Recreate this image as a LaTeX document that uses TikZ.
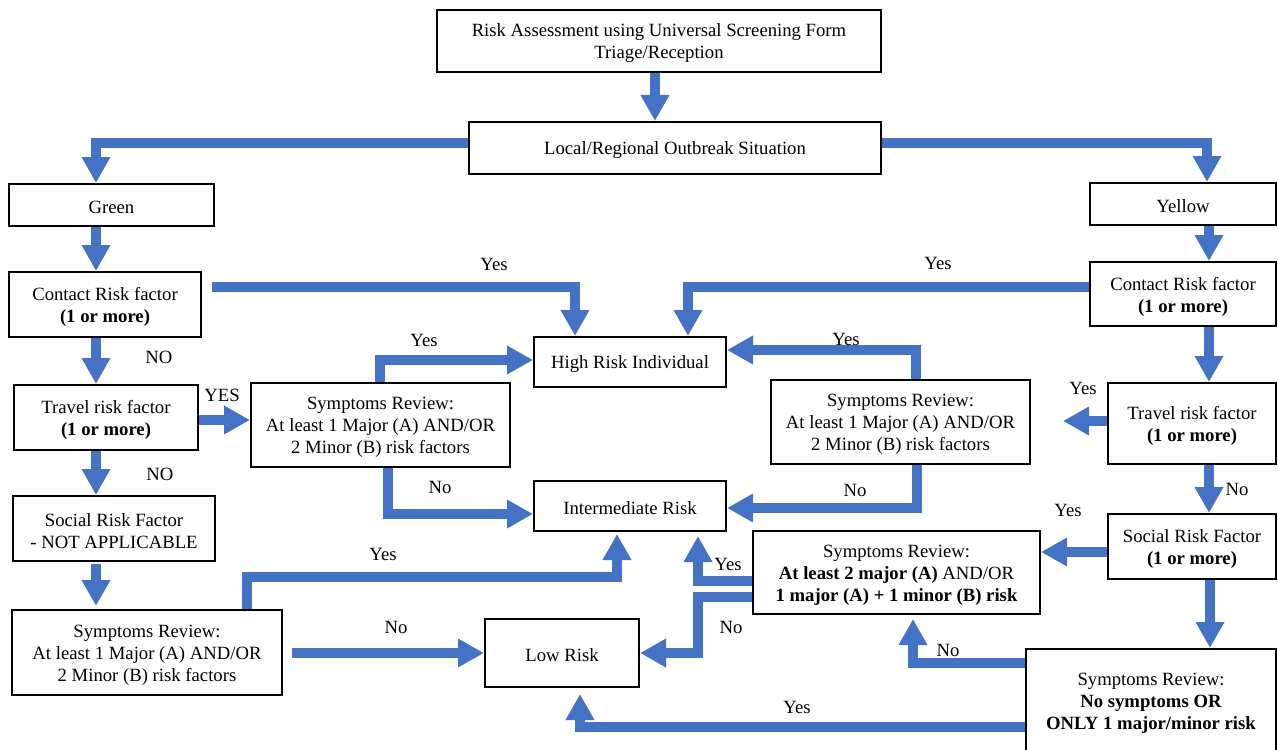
\documentclass[tikz,border=0pt]{standalone}
\usepackage{fontspec}
\setmainfont{Liberation Serif}
\usetikzlibrary{arrows.meta}
\definecolor{arrowblue}{RGB}{68,114,196}
\newcommand{\dfont}{\fontsize{9.35pt}{11pt}\selectfont}
\newcommand{\bx}[6]{\node[box,minimum width={(#4-#2)*0.5pt},minimum height={(#5-#3)*0.5pt}] (#1) at ({(#2+#4)/2},{(#3+#5)/2}) {};
  \node[boxtext] (#1t) at ([yshift=-1.25pt]#1.center) {#6};}
\begin{document}
\begin{tikzpicture}[x=0.5pt,y=-0.5pt,
  box/.style={draw=black,line width=1pt,inner sep=0pt},
  boxtext/.style={inner sep=0pt,align=center,font=\dfont},
  arr/.style={draw=arrowblue,line width=4.75pt,-{Triangle[width=13.5pt,length=13pt]}},
  lbl/.style={font=\dfont,inner sep=0pt}]
\useasboundingbox (0,0) rectangle (1278,749);
% boxes
\bx{top}{437}{10}{881}{72}{Risk Assessment using Universal Screening Form\\Triage/Reception}
\bx{local}{469}{122}{881}{174}{Local/Regional Outbreak Situation}
\bx{green}{9}{184}{214}{226}{Green}
\bx{yellow}{1090}{183}{1276}{225}{Yellow}
\bx{contactL}{9}{272}{201}{337}{Contact Risk factor\\\textbf{(1 or more)}}
\bx{contactR}{1090}{262}{1276}{326}{Contact Risk factor\\\textbf{(1 or more)}}
\bx{high}{534}{337}{726}{387}{High Risk Individual}
\bx{travelL}{14}{385}{198}{450}{Travel risk factor\\\textbf{(1 or more)}}
\bx{srLM}{251}{383}{510}{467}{Symptoms Review:\\At least 1 Major (A) AND/OR\\2 Minor (B) risk factors}
\bx{srRM}{771}{380}{1030}{464}{Symptoms Review:\\At least 1 Major (A) AND/OR\\2 Minor (B) risk factors}
\bx{travelR}{1108}{383}{1276}{464}{Travel risk factor\\\textbf{(1 or more)}}
\bx{inter}{534}{481}{726}{531}{Intermediate Risk}
\bx{socialL}{13}{496}{215}{561}{Social Risk Factor\\- NOT APPLICABLE}
\bx{srBold}{753}{531}{1040}{614}{Symptoms Review:\\\textbf{At least 2 major (A)} AND/OR\\\textbf{1 major (A) + 1 minor (B) risk}}
\bx{socialR}{1108}{514}{1276}{579}{Social Risk Factor\\\textbf{(1 or more)}}
\bx{srBL}{12}{610}{282}{695}{Symptoms Review:\\At least 1 Major (A) AND/OR\\2 Minor (B) risk factors}
\bx{low}{485}{619}{639}{687}{Low Risk}
\bx{srBR}{1026}{649}{1276}{752}{Symptoms Review:\\\textbf{No symptoms OR}\\\textbf{ONLY 1 major/minor risk}}
% helper coordinates
\coordinate (k1) at (655,0);
\coordinate (k2) at (96,143);
\coordinate (k3) at (1207,143);
\coordinate (k4) at (96,0);
\coordinate (k5) at (1209,0);
\coordinate (k6) at (575,287);
\coordinate (k7) at (688,287);
\coordinate (k10) at (0,420);
\coordinate (k11) at (380,360);
\coordinate (k12) at (916,350);
\coordinate (k13) at (388,514);
\coordinate (k14) at (917,508);
\coordinate (k15) at (0,421);
\coordinate (k17) at (0,552);
\coordinate (k18) at (1210,0);
\coordinate (k19) at (913,663);
\coordinate (k20) at (580,727);
\coordinate (k21) at (698,581);
\coordinate (k22a) at (698,597);
\coordinate (k22b) at (698,653);
\coordinate (k23a) at (247,577);
\coordinate (k23b) at (617,577);
\coordinate (k24) at (0,653);
% connectors
\draw[arr] (top.south -| k1) -- (local.north -| k1);
\draw[arr] (local.west |- k2) -- (k2) -- (k2 |- green.north);
\draw[arr] (local.east |- k3) -- (k3) -- (k3 |- yellow.north);
\draw[arr] (green.south -| k4) -- (contactL.north -| k4);
\draw[arr] (yellow.south -| k5) -- (contactR.north -| k5);
\draw[arr,shorten <=5pt] (contactL.east |- k6) -- (k6) -- (k6 |- high.north);
\draw[arr] (contactR.west |- k7) -- (k7) -- (k7 |- high.north);
\draw[arr] (contactL.south -| k4) -- (travelL.north -| k4);
\draw[arr] (contactR.south -| k5) -- (travelR.north -| k5);
\draw[arr] (travelL.east |- k10) -- (srLM.west |- k10);
\draw[arr] (srLM.north -| k11) -- (k11) -- (high.west |- k11);
\draw[arr] (srRM.north -| k12) -- (k12) -- (high.east |- k12);
\draw[arr] (srLM.south -| k13) -- (k13) -- (inter.west |- k13);
\draw[arr] (srRM.south -| k14) -- (k14) -- (inter.east |- k14);
\draw[arr,shorten >=16pt] (travelR.west |- k15) -- (srRM.east |- k15);
\draw[arr] (travelR.south -| k5) -- (socialR.north -| k5);
\draw[arr] (socialR.west |- k17) -- (srBold.east |- k17);
\draw[arr] (socialR.south -| k18) -- (srBR.north -| k18);
\draw[arr,shorten >=2pt] (srBR.west |- k19) -- (k19) -- (k19 |- srBold.south);
\draw[arr,shorten >=3pt] (srBR.west |- k20) -- (k20) -- (k20 |- low.south);
\draw[arr,shorten >=2pt] (srBold.west |- k21) -- (k21) -- (k21 |- inter.south);
\draw[arr] (srBold.west |- k22a) -- (k22a) -- (k22b) -- (low.east |- k22b);
\draw[arr,shorten >=1pt] (srBL.north -| k23a) -- (k23a) -- (k23b) -- (k23b |- inter.south);
\draw[arr,shorten <=4.5pt] (srBL.east |- k24) -- (low.west |- k24);
\draw[arr,shorten <=1pt,shorten >=1.5pt] (socialL.south -| k4) -- (srBL.north -| k4);
\draw[arr] (travelL.south -| k4) -- (socialL.north -| k4);
% labels
\node[lbl] (l1) at (494,264) {Yes};
\node[lbl] (l2) at (938,263) {Yes};
\node[lbl] (l3) at (159,357) {NO};
\node[lbl] (l4) at (222,395) {YES};
\node[lbl] (l5) at (424,340) {Yes};
\node[lbl] (l6) at (846,339) {Yes};
\node[lbl] (l7) at (160,474) {NO};
\node[lbl] (l8) at (440,487) {No};
\node[lbl] (l9) at (855,490) {No};
\node[lbl] (l10) at (1083,388) {Yes};
\node[lbl] (l11) at (1237,489) {No};
\node[lbl] (l12) at (1068,510) {Yes};
\node[lbl] (l13) at (383,554) {Yes};
\node[lbl] (l14) at (728,564) {Yes};
\node[lbl] (l15) at (731,627) {No};
\node[lbl] (l16) at (396,627) {No};
\node[lbl] (l17) at (948,650) {No};
\node[lbl] (l18) at (797,707) {Yes};
\end{tikzpicture}
\end{document}
